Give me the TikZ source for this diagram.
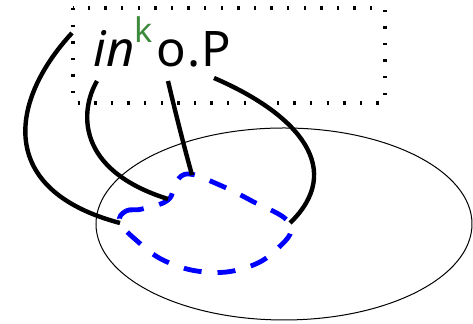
\documentclass[tikz,border=0pt]{standalone}
\usepackage{fontspec}
\setmainfont{Noto Sans}
\usepackage{xcolor}
\usetikzlibrary{positioning}
\definecolor{kgreen}{RGB}{61,138,61}

\begin{document}
\begin{tikzpicture}[
  x=0.5pt, y=-0.5pt,
  dotbox/.style={line width=2.2pt, dash pattern=on 1.2pt off 7.1pt},
  oval/.style={line width=0.5pt},
  bnd/.style={blue, line width=2.4pt, dash pattern=on 9pt off 8pt},
  wire/.style={line width=2.2pt},
  lbl/.style={font=\fontsize{24.5}{28}\selectfont, inner sep=0pt, anchor=base west}
]
  \useasboundingbox (0,0) rectangle (473,324);

  % Label in the dotted box
  \node[lbl] (term) at (93,67) {{\itshape in}\raisebox{12pt}{\fontsize{17}{19}\selectfont\color{kgreen}k}\hspace{2pt}o\hspace{0.5pt}.\hspace{0.5pt}P};
  \draw[dotbox] (73,8) rectangle (385,103);

  % Region and boundary
  \draw[oval] (284,224) ellipse [x radius=188, y radius=96];
  \draw[bnd] plot[smooth cycle, tension=0.7] coordinates {
    (120,222) (126,211) (142,209) (168,200) (176,182) (189,174) (215,183)
    (250,200) (290,224) (276,250) (245,268) (205,272) (165,261) (136,240)};

  % End points
  \coordinate (s1) at (72,33);
  \coordinate (s2) at (97,81);
  \coordinate (s3) at (168,81);
  \coordinate (s4) at (214,78);
  \coordinate (t1) at (120,223);
  \coordinate (t2) at (168,199);
  \coordinate (t3) at (192,175);
  \coordinate (t4) at (290,223);

  % Wires
  \draw[wire] (s1) .. controls (10,100) and (-5,190) .. (t1);
  \draw[wire] (s2) .. controls (80,110) and (75,170) .. (t2);
  \draw[wire] (s3) .. controls (176,115) and (185,150) .. (t3);
  \draw[wire] (s4) .. controls (300,115) and (345,170) .. (t4);
\end{tikzpicture}
\end{document}
